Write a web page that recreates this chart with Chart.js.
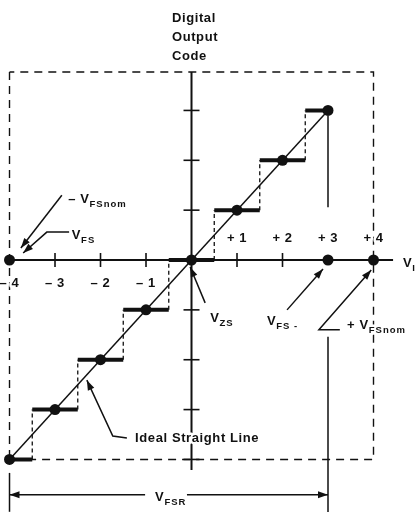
<!DOCTYPE html>
<html lang="en">
<head>
<meta charset="UTF-8">
<title>Digital Output Code</title>
<script src="https://cdn.jsdelivr.net/npm/chart.js"></script>
<style>
  html, body { margin: 0; padding: 0; background: #fff; }
  #wrap { width: 417px; height: 512px; }
</style>
</head>
<body>
<div id="wrap"><canvas id="chart" width="417" height="512"></canvas></div>
<script>
// ideal transfer curve: output codes and the input levels where the code changes
const codes = [-4, -3, -2, -1, 0, 1, 2, 3];
const transitions = [-3.5, -2.5, -1.5, -0.5, 0.5, 1.5, 2.5];
const axisDots = [-4, 3, 4];
const xTickValues = [-3, -2, -1, 1, 2];
const yTickValues = [3, 2, 1, -1, -2, -3, -4];
const xLabelValues = [-4, -3, -2, -1, 1, 2, 3, 4];
const xTickLabels = ['– 4', '– 3', '– 2', '– 1', '+ 1', '+ 2', '+ 3', '+ 4'];
const fullScale = 3;
const boxTop = 3.77;

const INK = '#111';

// step segments and dashed risers built from the arrays above
const steps = [];
codes.forEach((c, i) => {
  const from = i === 0 ? codes[0] : transitions[i - 1];
  const to = i === codes.length - 1 ? codes[i] : transitions[i];
  steps.push({x: from, y: c}, {x: to, y: c}, {x: to, y: null});
});
const risers = [];
transitions.forEach((t, i) => {
  risers.push({x: t, y: codes[i]}, {x: t, y: codes[i + 1]}, {x: t, y: null});
});

const dots = codes.map(c => ({x: c, y: c})).concat(axisDots.map(v => ({x: v, y: 0})));

// annotation arrows (data units), arrowhead on last point
const arrows = [
  [[-2.85, 1.30], [-3.75, 0.24]],
  [[-2.69, 0.56], [-3.18, 0.56], [-3.70, 0.14]],
  [[0.30, -0.86], [-0.03, -0.14]],
  [[2.10, -1.00], [2.89, -0.18]],
  [[3.26, -1.40], [2.80, -1.40], [3.95, -0.20]],
  [[-1.42, -3.57], [-1.73, -3.53], [-2.30, -2.41]],
  [[-1.02, -4.71], [-4, -4.71]],
  [[-0.10, -4.71], [fullScale, -4.71]]
];

const labels = [
  {x: -2.71, y: 1.14, main: '– V', sub: 'FSnom'},
  {x: -2.63, y: 0.42, main: 'V', sub: 'FS'},
  {x: 0.41, y: -1.24, main: 'V', sub: 'ZS'},
  {x: 1.66, y: -1.30, main: 'V', sub: 'FS -'},
  {x: 3.42, y: -1.38, main: '+ V', sub: 'FSnom'},
  {x: -0.80, y: -4.83, main: 'V', sub: 'FSR'},
  {x: 4.65, y: -0.14, main: 'V', sub: 'I'},
  {x: -1.24, y: -3.65, main: 'Ideal Straight Line', sub: ''}
];
const titleLines = ['Digital', 'Output', 'Code'];
const titleY = [4.77, 4.39, 4.01];

const MAIN_FONT = 'bold 13px "Liberation Sans", Arial, sans-serif';
const SUB_FONT = 'bold 9.5px "Liberation Sans", Arial, sans-serif';

function haloText(ctx, text, x, y) {
  ctx.save();
  ctx.strokeStyle = '#fff';
  ctx.lineWidth = 5;
  ctx.lineJoin = 'round';
  ctx.strokeText(text, x, y);
  ctx.restore();
  ctx.fillText(text, x, y);
}

const notes = {
  id: 'notes',
  afterDatasetsDraw(chart) {
    const {ctx, scales: {x, y}} = chart;
    const px = v => x.getPixelForValue(v);
    const py = v => y.getPixelForValue(v);
    ctx.save();
    ctx.fillStyle = INK;
    ctx.strokeStyle = INK;
    ctx.lineWidth = 1.5;

    arrows.forEach(pts => {
      ctx.beginPath();
      pts.forEach((p, i) => i ? ctx.lineTo(px(p[0]), py(p[1])) : ctx.moveTo(px(p[0]), py(p[1])));
      ctx.stroke();
      const a = pts[pts.length - 2], b = pts[pts.length - 1];
      const ang = Math.atan2(py(b[1]) - py(a[1]), px(b[0]) - px(a[0]));
      const hx = px(b[0]), hy = py(b[1]);
      ctx.beginPath();
      ctx.moveTo(hx, hy);
      ctx.lineTo(hx - 10 * Math.cos(ang) + 3.5 * Math.sin(ang), hy - 10 * Math.sin(ang) - 3.5 * Math.cos(ang));
      ctx.lineTo(hx - 10 * Math.cos(ang) - 3.5 * Math.sin(ang), hy - 10 * Math.sin(ang) + 3.5 * Math.cos(ang));
      ctx.closePath();
      ctx.fill();
    });

    // V_FSR end mark
    ctx.beginPath();
    ctx.moveTo(px(-4), py(-4.27));
    ctx.lineTo(px(-4), py(-5.05));
    ctx.stroke();

    ctx.textBaseline = 'alphabetic';
    labels.forEach(l => {
      ctx.font = MAIN_FONT;
      ctx.letterSpacing = '0.6px';
      ctx.textAlign = 'left';
      const x0 = px(l.x), y0 = py(l.y);
      haloText(ctx, l.main, x0, y0);
      if (l.sub) {
        const w = ctx.measureText(l.main).width;
        ctx.font = SUB_FONT;
        ctx.letterSpacing = '1px';
        haloText(ctx, l.sub, x0 + w, y0 + 4);
      }
    });

    ctx.font = MAIN_FONT;
    ctx.letterSpacing = '0.6px';
    ctx.textAlign = 'center';
    xLabelValues.forEach((v, i) => {
      const yy = v > 0 ? 0.44 : -0.46;
      haloText(ctx, xTickLabels[i], px(v), py(yy) + 4);
    });

    ctx.textAlign = 'left';
    titleLines.forEach((t, i) => ctx.fillText(t, px(-0.43), py(titleY[i])));
    ctx.restore();
  }
};

new Chart(document.getElementById('chart'), {
  type: 'scatter',
  data: {
    datasets: [
      {data: dots, pointRadius: 5.5, backgroundColor: INK, borderColor: INK, borderWidth: 0},
      {data: steps, showLine: true, spanGaps: false, borderColor: INK, borderWidth: 4, pointRadius: 0, borderCapStyle: 'butt'},
      {data: risers, showLine: true, spanGaps: false, borderColor: INK, borderWidth: 1.3, borderDash: [4, 3], pointRadius: 0},
      {data: [{x: codes[0], y: codes[0]}, {x: fullScale, y: fullScale}], showLine: true, borderColor: INK, borderWidth: 1.5, pointRadius: 0},
      {data: [{x: -4, y: 0}, {x: 4.43, y: 0}], showLine: true, borderColor: INK, borderWidth: 2, pointRadius: 0},
      {data: [{x: 0, y: boxTop}, {x: 0, y: -4.21}], showLine: true, borderColor: INK, borderWidth: 2, pointRadius: 0},
      {data: xTickValues.map(v => ({x: v, y: 0})), pointStyle: 'line', rotation: 90, pointRadius: 7, borderColor: INK, borderWidth: 1.6},
      {data: yTickValues.map(v => ({x: 0, y: v})), pointStyle: 'line', pointRadius: 8, borderColor: INK, borderWidth: 1.6},
      {data: [{x: fullScale, y: 2.89}, {x: fullScale, y: 1.06}, {x: fullScale, y: null}, {x: fullScale, y: -1.54}, {x: fullScale, y: -5.06}],
        showLine: true, spanGaps: false, borderColor: INK, borderWidth: 1.5, pointRadius: 0},
      {data: [{x: -4, y: boxTop}, {x: -4, y: -4}, {x: 4, y: -4}, {x: 4, y: boxTop}, {x: -4, y: boxTop}],
        showLine: true, borderColor: INK, borderWidth: 1.4, borderDash: [8, 6], pointRadius: 0}
    ]
  },
  options: {
    responsive: false,
    animation: false,
    devicePixelRatio: 1,
    events: [],
    layout: {padding: 0, autoPadding: false},
    plugins: {legend: {display: false}, tooltip: {enabled: false}},
    scales: {
      x: {type: 'linear', min: -4.209, max: 4.956, display: false},
      y: {type: 'linear', min: -5.054, max: 5.215, display: false}
    }
  },
  plugins: [notes]
});
</script>
</body>
</html>
